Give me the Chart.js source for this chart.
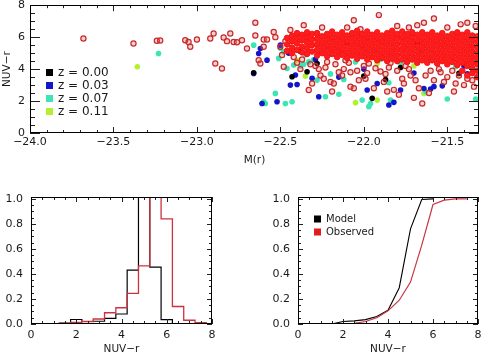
<!DOCTYPE html>
<html>
<head>
<meta charset="utf-8">
<script src="https://cdn.jsdelivr.net/npm/chart.js@4.4.1/dist/chart.umd.min.js"></script>
<style>
  body { margin: 0; background: #fff; width: 485px; height: 356px; position: relative; overflow: hidden; }
  canvas { position: absolute; }
</style>
</head>
<body>
<canvas id="topChart" width="485" height="170" style="left:0;top:0"></canvas>
<canvas id="histChart" width="240" height="171" style="left:0;top:185px"></canvas>
<canvas id="cumChart" width="235" height="171" style="left:250px;top:185px"></canvas>
<script>
// ---- tick labels ----
var magTicks = [-24.0, -23.5, -23.0, -22.5, -22.0, -21.5];
var colourTicks = [0, 2, 4, 6, 8];
var fracTicks = [0, 0.2, 0.4, 0.6, 0.8, 1.0];

// ---- top panel: observed galaxies (M(r), NUV-r) ----
var obsSparse = [
  [-23.68, 5.92], [-23.38, 5.6], [-23.24, 5.77], [-23.22, 5.79], [-23.07, 5.81], [-23.05, 5.7],
  [-23.04, 5.4], [-23.0, 5.85], [-22.92, 5.92], [-22.9, 6.23], [-22.89, 4.35], [-22.85, 4.04],
  [-22.84, 5.98], [-22.82, 5.75], [-22.8, 6.23], [-22.78, 5.7], [-22.76, 5.68], [-22.73, 5.81],
  [-22.7, 5.29], [-22.65, 6.9], [-22.65, 6.1], [-22.6, 5.85], [-22.6, 5.4], [-22.63, 4.56],
  [-22.62, 4.35], [-22.58, 5.85], [-22.54, 6.33], [-22.53, 6.0], [-22.5, 5.4], [-22.49, 4.88],
  [-22.47, 5.75], [-22.48, 4.15], [-22.36, 6.75], [-22.33, 2.69], [-22.31, 3.1], [-22.26, 3.6],
  [-22.2, 3.2], [-22.18, 3.1], [-22.12, 4.0], [-22.08, 3.8], [-22.06, 7.06], [-22.06, 2.8],
  [-22.03, 3.3], [-21.98, 3.75], [-21.94, 2.8], [-21.91, 7.38], [-21.9, 3.85], [-21.88, 3.2],
  [-21.82, 2.7], [-21.79, 2.4], [-21.76, 3.1], [-21.7, 2.2], [-21.67, 2.8], [-21.65, 1.85],
  [-21.64, 6.9], [-21.58, 7.17], [-21.61, 2.5], [-21.52, 3.2], [-21.46, 2.6], [-21.38, 6.9],
  [-21.4, 3.0], [-21.38, 3.4], [-21.34, 2.9], [-21.43, 3.6], [-22.4, 4.4], [-22.38, 4.0],
  [-22.29, 4.2], [-22.23, 4.1], [-22.15, 3.8], [-22.0, 4.2], [-21.85, 4.1], [-21.75, 4.2],
  [-21.72, 3.6], [-21.6, 3.9], [-21.55, 4.0], [-22.44, 6.45], [-22.25, 6.6], [-22.1, 6.6],
  [-22.02, 6.5], [-21.8, 6.7], [-21.73, 6.6], [-21.68, 6.75], [-21.5, 6.6], [-21.42, 6.8],
  [-21.33, 6.7], [-22.22, 4.45], [-21.97, 4.35], [-22.09, 4.4], [-21.35, 3.3],
  [-22.42, 4.75], [-22.37, 4.6], [-22.32, 4.3], [-22.27, 4.0], [-22.24, 3.4], [-22.17, 4.3],
  [-22.13, 3.6], [-22.11, 4.55], [-22.04, 3.9], [-21.99, 3.4], [-21.93, 4.05], [-21.87, 3.7],
  [-21.84, 4.4], [-21.8, 3.9], [-21.77, 3.4], [-21.73, 4.0], [-21.69, 3.3], [-21.63, 3.6],
  [-21.58, 3.3], [-21.54, 3.8], [-21.5, 3.5], [-21.47, 3.9], [-21.45, 3.1], [-22.19, 2.6],
  [-22.08, 2.9], [-21.86, 2.6]
];
// dense part of the cloud, one column per entry: [M(r), NUV-r values...]
var obsCloud = [
  [-22.46, 5.15, 5.55, 5.95], [-22.43, 5.0, 5.35, 5.75, 6.1], [-22.40, 5.2, 5.6, 5.95, 6.25],
  [-22.37, 5.05, 5.4, 5.8, 6.15], [-22.34, 4.95, 5.3, 5.65, 6.0, 6.3], [-22.31, 5.1, 5.5, 5.85, 6.2],
  [-22.28, 4.85, 5.2, 5.55, 5.9, 6.25], [-22.25, 5.0, 5.35, 5.7, 6.05], [-22.22, 4.8, 5.15, 5.5, 5.85, 6.2],
  [-22.19, 4.95, 5.3, 5.65, 6.0, 6.35], [-22.16, 4.75, 5.1, 5.45, 5.8, 6.15], [-22.13, 4.9, 5.25, 5.6, 5.95, 6.3],
  [-22.10, 4.7, 5.05, 5.4, 5.75, 6.1], [-22.07, 4.85, 5.2, 5.55, 5.9, 6.25], [-22.04, 4.65, 5.0, 5.35, 5.7, 6.05, 6.4],
  [-22.01, 4.8, 5.15, 5.5, 5.85, 6.2], [-21.98, 4.6, 4.95, 5.3, 5.65, 6.0, 6.35], [-21.95, 4.75, 5.1, 5.45, 5.8, 6.15],
  [-21.92, 4.55, 4.9, 5.25, 5.6, 5.95, 6.3], [-21.89, 4.7, 5.05, 5.4, 5.75, 6.1], [-21.86, 4.5, 4.85, 5.2, 5.55, 5.9, 6.25],
  [-21.83, 4.65, 5.0, 5.35, 5.7, 6.05, 6.4], [-21.80, 4.5, 4.85, 5.2, 5.55, 5.9, 6.2], [-21.77, 4.6, 4.95, 5.3, 5.65, 6.0, 6.35],
  [-21.74, 4.45, 4.8, 5.15, 5.5, 5.85, 6.2], [-21.71, 4.6, 4.95, 5.3, 5.65, 6.0, 6.3], [-21.68, 4.4, 4.75, 5.1, 5.45, 5.8, 6.15],
  [-21.65, 4.55, 4.9, 5.25, 5.6, 5.95, 6.3], [-21.62, 4.4, 4.75, 5.1, 5.45, 5.8, 6.15], [-21.59, 4.55, 4.9, 5.25, 5.6, 5.95, 6.3],
  [-21.56, 4.35, 4.7, 5.05, 5.4, 5.75, 6.1], [-21.53, 4.5, 4.85, 5.2, 5.55, 5.9, 6.25], [-21.50, 4.3, 4.65, 5.0, 5.35, 5.7, 6.05],
  [-21.47, 4.45, 4.8, 5.15, 5.5, 5.85, 6.2], [-21.44, 4.25, 4.6, 4.95, 5.3, 5.65, 6.0, 6.3],
  [-21.41, 3.9, 4.4, 4.75, 5.1, 5.45, 5.8, 6.15], [-21.38, 3.6, 4.2, 4.55, 4.9, 5.25, 5.6, 5.95, 6.3],
  [-21.35, 3.75, 4.05, 4.4, 4.75, 5.1, 5.45, 5.8, 6.1], [-21.32, 3.5, 3.9, 4.3, 4.65, 5.0, 5.35, 5.7, 6.05]
];

// ---- top panel: model galaxies by redshift ----
var zLabels = ['z = 0.00', 'z = 0.03', 'z = 0.07', 'z = 0.11'];
var zColours = ['#000000', '#1414c8', '#3ce6b4', '#b4f032'];
var modelZ00 = [
  [-22.66, 3.77], [-22.43, 3.52], [-22.34, 3.83], [-22.28, 4.35], [-22.0, 3.56], [-21.95, 2.17],
  [-21.87, 3.35], [-21.68, 5.6], [-21.43, 3.73], [-22.1, 5.6], [-21.56, 4.35], [-22.38, 5.1], [-21.78, 4.1]
];
var modelZ03 = [
  [-22.66, 3.73], [-22.63, 4.98], [-22.62, 5.29], [-22.58, 4.56], [-22.61, 1.85], [-22.52, 1.96],
  [-22.5, 5.5], [-22.44, 3.0], [-22.41, 3.63], [-22.4, 3.04], [-22.27, 2.27], [-22.31, 3.42],
  [-22.29, 4.6], [-21.98, 2.69], [-21.85, 1.75], [-21.82, 1.92], [-21.78, 2.69], [-21.64, 2.79],
  [-21.6, 2.75], [-21.58, 2.9], [-21.53, 2.95], [-22.0, 4.0], [-21.4, 4.2], [-21.38, 3.7],
  [-22.45, 5.0], [-22.15, 3.5], [-21.7, 3.75], [-21.92, 3.1]
];
var modelZ07 = [
  [-23.23, 4.98], [-22.66, 5.5], [-22.6, 1.96], [-22.59, 1.85], [-22.53, 2.48], [-22.47, 1.85],
  [-22.43, 1.96], [-22.51, 4.67], [-22.48, 5.08], [-22.5, 5.3], [-22.46, 4.04], [-22.42, 4.25],
  [-22.38, 4.2], [-22.36, 4.3], [-22.33, 4.45], [-22.3, 4.6], [-22.28, 3.31], [-22.23, 2.27],
  [-22.15, 2.42], [-22.12, 3.35], [-22.01, 2.06], [-21.97, 1.65], [-21.96, 1.85], [-21.84, 2.06],
  [-21.85, 3.15], [-21.67, 4.98], [-21.63, 2.6], [-21.5, 2.13], [-21.33, 2.13], [-21.6, 4.6],
  [-21.45, 4.15], [-22.14, 4.9], [-22.2, 3.7], [-21.9, 4.6], [-21.78, 4.4], [-22.05, 4.45], [-22.35, 4.9]
];
var modelZ11 = [
  [-23.357, 4.15], [-22.35, 3.56], [-22.05, 1.9], [-21.92, 2.06], [-21.64, 2.48], [-21.52, 4.56],
  [-21.38, 4.19], [-21.92, 4.35], [-22.4, 4.55], [-21.7, 4.2]
];

// ---- bottom left: NUV-r histograms (bin centres, width 0.5) ----
var binCentres = [0, 0.5, 1, 1.5, 2, 2.5, 3, 3.5, 4, 4.5, 5, 5.5, 6, 6.5, 7, 7.5, 8];
var modelHist = [0, 0, 0, 0.008, 0.036, 0.02, 0.022, 0.045, 0.08, 0.43, 1.4, 0.455, 0.035, 0, 0, 0, 0];
var obsHist = [0, 0, 0, 0.005, 0.012, 0.02, 0.04, 0.09, 0.13, 0.245, 0.465, 1.5, 0.84, 0.14, 0.03, 0.01, 0];

// ---- bottom right: cumulative distributions ----
var cumLabels = ['Model', 'Observed'];
var modelCumX = [1.5, 2, 2.5, 3, 3.5, 4, 4.5, 5, 5.5, 6];
var modelCum = [0, 0.02, 0.025, 0.035, 0.06, 0.11, 0.29, 0.76, 0.995, 1.0];
var obsCumX = [2, 2.5, 3, 3.5, 4, 4.5, 5, 5.5, 6, 6.5, 7, 7.5];
var obsCum = [0, 0.005, 0.02, 0.05, 0.105, 0.19, 0.335, 0.63, 0.955, 0.99, 1.0, 1.0];

var red = '#cc3340';
var tickFont = { family: 'DejaVu Sans', size: 11 };
var titleFont = { family: 'DejaVu Sans', size: 10.5 };
var textColour = '#1a1a1a';

function pairs(list) {
  return list.map(function (p) { return { x: p[0], y: p[1] }; });
}
function xy(xs, ys) {
  return xs.map(function (v, i) { return { x: v, y: ys[i] }; });
}
function minus(s) { return s.replace('-', '\u2212'); }

var obsPoints = pairs(obsSparse);
obsCloud.forEach(function (col) {
  for (var i = 1; i < col.length; i++) obsPoints.push({ x: col[0], y: col[i] });
});
// isolated points show as open rings, the crowded ones merge into solid red
function isLone(ctx) { return ctx.dataIndex < obsSparse.length; }

// frame with inward major/minor ticks on all four sides (IDL look)
var framePlugin = {
  id: 'frame',
  afterDatasetsDraw: function (chart, args, o) {
    var ctx = chart.ctx, a = chart.chartArea;
    var xs = chart.scales.x, ys = chart.scales.y;
    function marks(min, max, minor) {
      var out = [];
      for (var n = Math.ceil(min / minor - 1e-6); n <= Math.floor(max / minor + 1e-6); n++) out.push(n * minor);
      return out;
    }
    function isMajor(v, major) { return Math.abs(v / major - Math.round(v / major)) < 1e-6; }
    ctx.save();
    ctx.strokeStyle = '#222';
    ctx.lineWidth = 1;
    ctx.beginPath();
    marks(xs.min, xs.max, o.xMinor).forEach(function (v) {
      var len = isMajor(v, o.xMajor) ? o.xLen[0] : o.xLen[1];
      var px = Math.round(xs.getPixelForValue(v)) + 0.5;
      ctx.moveTo(px, a.bottom); ctx.lineTo(px, a.bottom - len);
      ctx.moveTo(px, a.top); ctx.lineTo(px, a.top + len);
    });
    marks(ys.min, ys.max, o.yMinor).forEach(function (v) {
      var len = isMajor(v, o.yMajor) ? o.yLen[0] : o.yLen[1];
      var py = Math.round(ys.getPixelForValue(v)) + 0.5;
      ctx.moveTo(a.left, py); ctx.lineTo(a.left + len, py);
      ctx.moveTo(a.right, py); ctx.lineTo(a.right - len, py);
    });
    ctx.stroke();
    ctx.strokeStyle = '#000';
    ctx.strokeRect(Math.round(a.left) + 0.5, Math.round(a.top) + 0.5,
      Math.round(a.right - a.left) - 1, Math.round(a.bottom - a.top) - 1);
    ctx.restore();
  }
};

// little square-box legend inside the plot
var boxLegend = {
  id: 'boxLegend',
  afterDraw: function (chart, args, o) {
    var ctx = chart.ctx;
    ctx.save();
    ctx.font = o.font;
    ctx.textBaseline = 'middle';
    o.labels.forEach(function (label, i) {
      var y = o.y + i * o.gap;
      ctx.fillStyle = o.colours[i];
      ctx.fillRect(o.x, y - o.box / 2, o.box, o.box);
      ctx.fillStyle = textColour;
      ctx.fillText(label, o.x + o.box + o.space, y);
    });
    ctx.restore();
  }
};

function axis(opts) {
  var s = {
    type: 'linear', min: opts.min, max: opts.max,
    grid: { display: false, drawTicks: false },
    border: { display: false },
    afterBuildTicks: function (scale) { scale.ticks = opts.ticks.map(function (v) { return { value: v }; }); },
    afterFit: function (scale) {
      if (opts.width) scale.width = opts.width;
      if (opts.height) scale.height = opts.height;
      scale.paddingLeft = 0; scale.paddingRight = 0; scale.paddingTop = 0; scale.paddingBottom = 0;
    },
    ticks: { font: tickFont, color: textColour, padding: opts.pad, autoSkip: false, maxRotation: 0, callback: opts.fmt }
  };
  if (opts.title) s.title = { display: true, text: opts.title, font: titleFont, color: textColour, padding: opts.titlePad };
  return s;
}

var common = {
  responsive: false,
  animation: false,
  events: []
};

new Chart(document.getElementById('topChart'), {
  type: 'scatter',
  data: {
    datasets: [
      { label: 'Observed', data: obsPoints, clip: 0,
        pointRadius: function (c) { return isLone(c) ? 2.6 : 2.8; },
        borderWidth: function (c) { return isLone(c) ? 1.2 : 1; },
        borderColor: function (c) { return isLone(c) ? '#c42a2a' : '#f41414'; },
        backgroundColor: function (c) { return isLone(c) ? 'rgba(255,90,90,0.3)' : '#ff1c1c'; } },
      { label: zLabels[0], data: pairs(modelZ00), pointRadius: 2.8, borderWidth: 0, backgroundColor: zColours[0], clip: 0 },
      { label: zLabels[1], data: pairs(modelZ03), pointRadius: 2.8, borderWidth: 0, backgroundColor: zColours[1], clip: 0 },
      { label: zLabels[2], data: pairs(modelZ07), pointRadius: 2.8, borderWidth: 0, backgroundColor: zColours[2], clip: 0 },
      { label: zLabels[3], data: pairs(modelZ11), pointRadius: 2.8, borderWidth: 0, backgroundColor: zColours[3], clip: 0 }
    ]
  },
  options: Object.assign({}, common, {
    layout: { padding: { top: 5, right: 6, left: 0, bottom: 0 } },
    scales: {
      x: axis({ min: -24, max: -21.31, ticks: magTicks, height: 37, pad: 3,
        fmt: function (v) { return minus(v.toFixed(1)); },
        title: 'M(r)', titlePad: { top: 0, bottom: 3 } }),
      y: axis({ min: 0, max: 8, ticks: colourTicks, width: 30, pad: 5,
        fmt: function (v) { return String(v); },
        title: 'NUV\u2212r', titlePad: { top: 1, bottom: 0 } })
    },
    plugins: {
      legend: { display: false }, tooltip: { enabled: false },
      frame: { xMinor: 0.1, xMajor: 0.5, xLen: [6, 3], yMinor: 0.5, yMajor: 2, yLen: [10, 5] },
      boxLegend: { labels: zLabels, colours: zColours, x: 46, y: 72.5, gap: 13, box: 7, space: 5,
        font: '12px "DejaVu Sans"' }
    }
  }),
  plugins: [framePlugin, boxLegend]
});

new Chart(document.getElementById('histChart'), {
  type: 'line',
  data: {
    datasets: [
      { label: 'Observed', data: xy(binCentres, obsHist), stepped: 'middle', borderColor: red, borderWidth: 1.3, pointRadius: 0 },
      { label: 'Model', data: xy(binCentres, modelHist), stepped: 'middle', borderColor: '#000', borderWidth: 1.2, pointRadius: 0 }
    ]
  },
  options: Object.assign({}, common, {
    layout: { padding: { top: 12, right: 28, left: 0, bottom: 0 } },
    scales: {
      x: axis({ min: 0, max: 8, ticks: colourTicks, height: 32, pad: 5,
        fmt: function (v) { return String(v); },
        title: 'NUV\u2212r', titlePad: { top: 0, bottom: 0 } }),
      y: axis({ min: 0, max: 1.015, ticks: fracTicks, width: 31, pad: 8,
        fmt: function (v) { return v.toFixed(1); } })
    },
    plugins: {
      legend: { display: false }, tooltip: { enabled: false },
      frame: { xMinor: 0.5, xMajor: 2, xLen: [5, 3], yMinor: 0.05, yMajor: 0.2, yLen: [5, 3] },
      boxLegend: { labels: [], colours: [], x: 0, y: 0, gap: 0, box: 0, space: 0, font: '10px sans-serif' }
    }
  }),
  plugins: [framePlugin, boxLegend]
});

new Chart(document.getElementById('cumChart'), {
  type: 'line',
  data: {
    datasets: [
      { label: 'Observed', data: xy(obsCumX, obsCum), borderColor: red, borderWidth: 1.2, pointRadius: 0, tension: 0 },
      { label: 'Model', data: xy(modelCumX, modelCum), borderColor: '#000', borderWidth: 1.1, pointRadius: 0, tension: 0 }
    ]
  },
  options: Object.assign({}, common, {
    layout: { padding: { top: 12, right: 7, left: 0, bottom: 0 } },
    scales: {
      x: axis({ min: 0, max: 8, ticks: colourTicks, height: 32, pad: 5,
        fmt: function (v) { return String(v); },
        title: 'NUV\u2212r', titlePad: { top: 0, bottom: 0 } }),
      y: axis({ min: 0, max: 1.015, ticks: fracTicks, width: 48, pad: 8,
        fmt: function (v) { return v.toFixed(1); } })
    },
    plugins: {
      legend: { display: false }, tooltip: { enabled: false },
      frame: { xMinor: 0.5, xMajor: 2, xLen: [5, 3], yMinor: 0.05, yMajor: 0.2, yLen: [5, 3] },
      boxLegend: { labels: cumLabels, colours: ['#000', '#e01c1c'], x: 64, y: 34, gap: 13, box: 7, space: 5,
        font: '10px "DejaVu Sans"' }
    }
  }),
  plugins: [framePlugin, boxLegend]
});
</script>
</body>
</html>
